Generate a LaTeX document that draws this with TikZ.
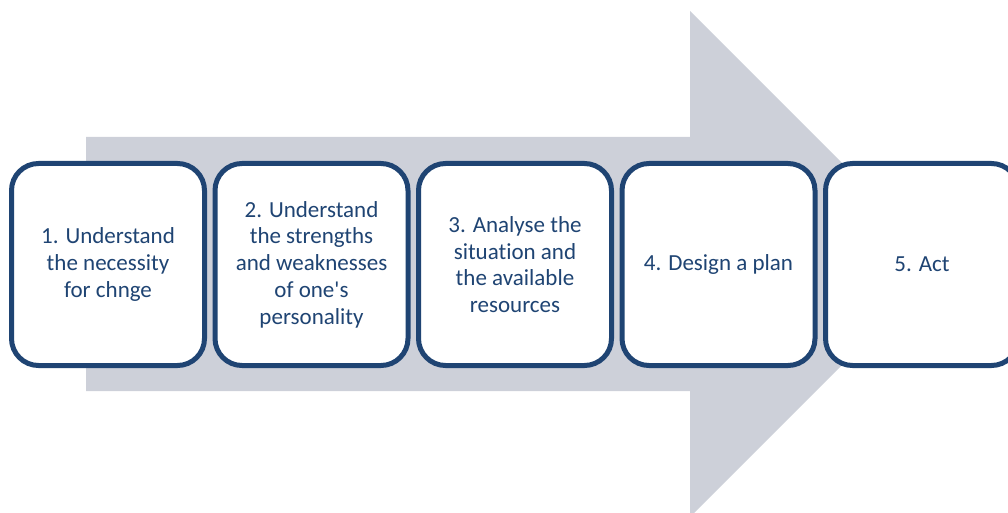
\documentclass[tikz,border=0pt]{standalone}
\usepackage{fontspec}
\setmainfont{Carlito}[Ligatures={TeX,NoCommon}]
\usetikzlibrary{positioning}
\definecolor{stepblue}{RGB}{31,68,115}
\definecolor{arrowgrey}{RGB}{205,208,217}
\tikzset{
	stepbox/.style={draw=stepblue, line width=5pt, fill=white, rounded corners=27pt,
		minimum width=193pt, minimum height=202pt, inner sep=0pt, outer sep=0pt,
		text=stepblue, align=center, font=\fontsize{23}{26.7}\selectfont}
}

\begin{document}
\begin{tikzpicture}[x=1pt, y=1pt]
			%%%%% START %%%%%
			\useasboundingbox (0, 0) rectangle (1008, 512);
			\clip (0, 0) rectangle (1008, 512);
			
			% big arrow behind the steps
			\fill[arrowgrey] (86, 121) -- (86, 375) -- (690, 375) -- (690, 501)
				-- (943, 248) -- (690, -5) -- (690, 121) -- cycle;
			
			% the five steps
			\node[stepbox] (step1) at (108, 247.5) {1. Understand\\the necessity\\for chnge};
			\node[stepbox, right=10.5pt of step1] (step2) {2. Understand\\the strengths\\and weaknesses\\of one\textquotesingle s\\personality};
			\node[stepbox, right=10.5pt of step2] (step3) {3. Analyse the\\situation and\\the available\\resources};
			\node[stepbox, right=10.5pt of step3] (step4) {4. Design a plan};
			\node[stepbox, right=10.5pt of step4] (step5) {5. Act};
			
			%%%%% END %%%%%
\end{tikzpicture}
\end{document}
